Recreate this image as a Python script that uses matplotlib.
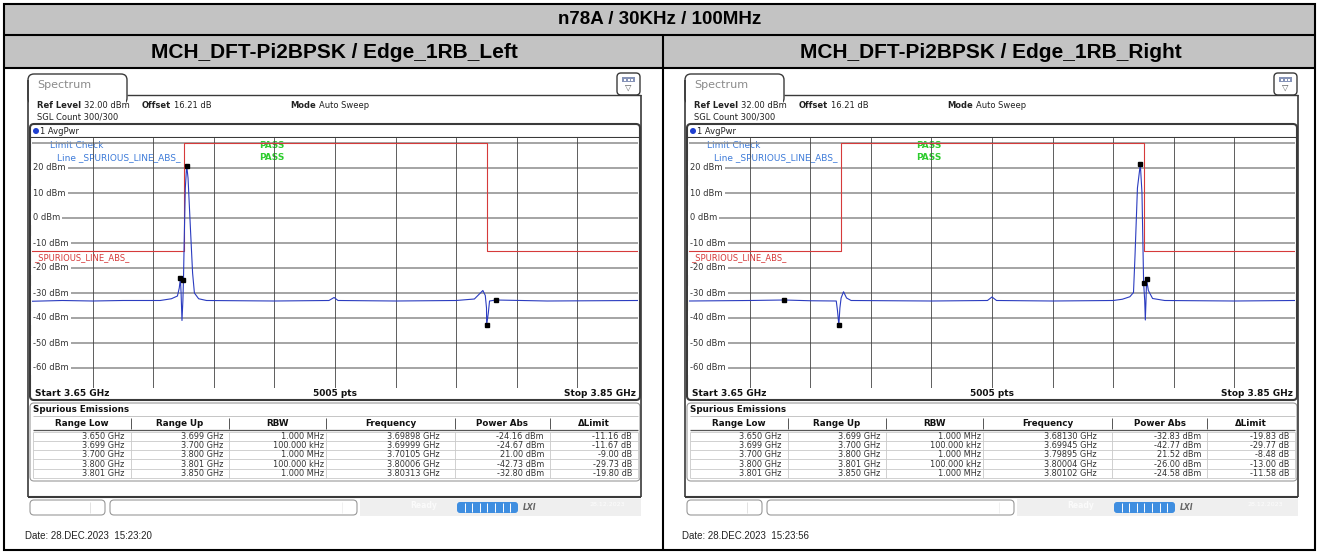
import matplotlib
matplotlib.use("Agg")
import matplotlib.pyplot as plt
from matplotlib.patches import Rectangle, FancyBboxPatch, Circle
from matplotlib.transforms import blended_transform_factory

W, H = 1319, 554

# ---------------- data ----------------
TITLE = "n78A / 30KHz / 100MHz"
SUBTITLES = ["MCH_DFT-Pi2BPSK / Edge_1RB_Left", "MCH_DFT-Pi2BPSK / Edge_1RB_Right"]
DATES = ["Date: 28.DEC.2023  15:23:20", "Date: 28.DEC.2023  15:23:56"]

F_START, F_STOP = 3.65, 3.85
REF_LEVEL, Y_BOTTOM = 32.0, -68.0
Y_LABELS = [20, 10, 0, -10, -20, -30, -40, -50, -60]
Y_GRID = [30, 20, 10, 0, -10, -20, -30, -40, -50, -60]
X_GRID = [3.67, 3.69, 3.71, 3.73, 3.75, 3.77, 3.79, 3.81, 3.83]

limit_freq = [3.65, 3.70, 3.70, 3.80, 3.80, 3.85]
limit_dbm = [-13, -13, 30, 30, -13, -13]

TABLE_HEADERS = ["Range Low", "Range Up", "RBW", "Frequency", "Power Abs", "\u0394Limit"]
range_low = ["3.650 GHz", "3.699 GHz", "3.700 GHz", "3.800 GHz", "3.801 GHz"]
range_up = ["3.699 GHz", "3.700 GHz", "3.800 GHz", "3.801 GHz", "3.850 GHz"]
rbw = ["1.000 MHz", "100.000 kHz", "1.000 MHz", "100.000 kHz", "1.000 MHz"]

left_peak_freq = [3.69898, 3.69999, 3.70105, 3.80006, 3.80313]
left_peak_power = [-24.16, -24.67, 21.00, -42.73, -32.80]
left_delta = [-11.16, -11.67, -9.00, -29.73, -19.80]

right_peak_freq = [3.68130, 3.69945, 3.79895, 3.80004, 3.80102]
right_peak_power = [-32.83, -42.77, 21.52, -26.00, -24.58]
right_delta = [-19.83, -29.77, -8.48, -13.00, -11.58]

left_trace_freq = [3.6500, 3.6600, 3.6700, 3.6800, 3.6923, 3.6960, 3.6980, 3.6986,
                   3.69898, 3.6992, 3.6995, 3.6998, 3.69999, 3.7003, 3.7006, 3.70105,
                   3.7015, 3.7022, 3.7030, 3.7036, 3.7050, 3.7076, 3.7300, 3.7480,
                   3.7497, 3.7510, 3.7700, 3.7900, 3.7960, 3.7988, 3.7996, 3.8000,
                   3.80006, 3.8006, 3.8010, 3.80313, 3.8200, 3.8500]
left_trace_dbm = [-33.3, -33.0, -33.2, -33.0, -33.0, -32.3, -31.2, -28.0,
                  -24.2, -30.0, -41.0, -33.0, -24.7, -5.0, 12.0, 21.0,
                  16.0, -2.0, -22.0, -30.0, -32.3, -33.0, -33.2, -33.0,
                  -31.8, -33.0, -33.2, -33.0, -32.4, -29.0, -31.0, -36.0,
                  -42.7, -38.0, -33.2, -32.8, -33.2, -33.0]

right_trace_freq = [3.6500, 3.6700, 3.68130, 3.6900, 3.6986, 3.6990, 3.69945, 3.6998,
                    3.7002, 3.7010, 3.7020, 3.7035, 3.7300, 3.7485, 3.7500, 3.7515,
                    3.7700, 3.7900, 3.7930, 3.7955, 3.7967, 3.7972, 3.7980, 3.79895,
                    3.7995, 3.7998, 3.80004, 3.8004, 3.8006, 3.8008, 3.80102, 3.8016,
                    3.8030, 3.8070, 3.8300, 3.8500]
right_trace_dbm = [-33.2, -33.0, -32.8, -33.1, -33.2, -37.0, -42.8, -36.0,
                   -32.0, -29.5, -32.0, -33.0, -33.2, -33.0, -31.6, -33.0,
                   -33.2, -33.0, -32.5, -31.5, -29.8, -15.0, 12.0, 21.5,
                   10.0, -10.0, -26.0, -33.0, -40.8, -34.0, -24.6, -29.0,
                   -32.2, -33.0, -33.2, -33.0]

# ---------------- styling ----------------
UI_DARK = "#3a3a3a"
TRACE_BLUE = "#2b3cc0"
LIMIT_RED = "#d63a3a"
LABEL_BLUE = "#3d7bd9"
PASS_GREEN = "#2ecc2e"
HEADER_GRAY = "#c3c3c3"
UI_FONT = "DejaVu Sans"
DOC_FONT = "Liberation Sans"

fig = plt.figure(figsize=(W / 100, H / 100), dpi=100)
bg = fig.add_axes([0, 0, 1, 1])
bg.set_xlim(0, W)
bg.set_ylim(H, 0)
bg.axis("off")


def box(x0, y0, x1, y1, **kw):
    bg.add_patch(Rectangle((x0, y0), x1 - x0, y1 - y0, **kw))


def rbox(x0, y0, x1, y1, r=4, **kw):
    bg.add_patch(FancyBboxPatch((x0, y0), x1 - x0, y1 - y0,
                                boxstyle=f"round,pad=0,rounding_size={r}", **kw))


def line(xs, ys, **kw):
    bg.plot(xs, ys, solid_capstyle="butt", **kw)


# document table frame
box(4, 4, 1315, 35, facecolor=HEADER_GRAY, edgecolor="none")
box(4, 35, 1315, 68, facecolor=HEADER_GRAY, edgecolor="none")
box(4, 4, 1315, 550, facecolor="none", edgecolor="black", lw=1.5)
line([4, 1315], [35, 35], color="black", lw=1.5)
line([4, 1315], [68, 68], color="black", lw=1.5)
line([663, 663], [35, 550], color="black", lw=1.5)
bg.text(660, 19, TITLE, ha="center", va="center", fontsize=13.5,
        fontweight="bold", family=DOC_FONT)


def draw_panel(dx, subtitle, date, tr_f, tr_db, pk_f, pk_p, pk_d):
    bg.text(334 + dx, 52, subtitle, ha="center", va="center", fontsize=15,
            fontweight="bold", family=DOC_FONT)

    # window frame + tab
    rbox(28 + dx, 74, 127 + dx, 104, r=6, facecolor="white", edgecolor=UI_DARK, lw=1.0)
    box(29 + dx, 95.5, 126 + dx, 106, facecolor="white", edgecolor="none")
    line([127 + dx, 641 + dx], [95, 95], color=UI_DARK, lw=1.0)
    line([28 + dx, 28 + dx], [80, 497], color=UI_DARK, lw=1.2)
    line([641 + dx, 641 + dx], [95, 497], color=UI_DARK, lw=1.2)
    line([28 + dx, 641 + dx], [497, 497], color=UI_DARK, lw=1.5)
    bg.text(37 + dx, 85, "Spectrum", ha="left", va="center", fontsize=8,
            color="#8a8a8a", family=UI_FONT)

    # menu icon
    rbox(617 + dx, 73, 640 + dx, 95, r=4, facecolor="white", edgecolor=UI_DARK, lw=1.0)
    box(622 + dx, 77, 635 + dx, 82, facecolor="#8794b8", edgecolor="none")
    for k in range(3):
        box(624 + dx + 3.5 * k, 78.5, 626 + dx + 3.5 * k, 80.5, facecolor="white",
            edgecolor="none")
    bg.text(628.5 + dx, 87.5, "\u25bd", ha="center", va="center", fontsize=6,
            color="#555555", family=UI_FONT)

    # instrument settings
    info = dict(va="center", fontsize=6, family=UI_FONT, color="#222222")
    bg.text(37 + dx, 105, "Ref Level", fontweight="bold", **info)
    bg.text(84 + dx, 105, "32.00 dBm", **info)
    bg.text(142 + dx, 105, "Offset", fontweight="bold", **info)
    bg.text(174 + dx, 105, "16.21 dB", **info)
    bg.text(290 + dx, 105, "Mode", fontweight="bold", **info)
    bg.text(319 + dx, 105, "Auto Sweep", **info)
    bg.text(37 + dx, 117, "SGL Count 300/300", **info)

    # graph window
    rbox(30 + dx, 124, 640 + dx, 400, r=4, facecolor="white", edgecolor=UI_DARK, lw=1.5)
    line([30 + dx, 640 + dx], [137, 137], color=UI_DARK, lw=0.8)
    bg.add_patch(Circle((36 + dx, 131), 3, facecolor="#1f3fd0", edgecolor="none"))
    bg.text(40 + dx, 131, "1 AvgPwr", **info)
    foot = dict(va="center", fontsize=6.5, family=UI_FONT, fontweight="bold",
                color="#111111")
    bg.text(35 + dx, 394, "Start 3.65 GHz", ha="left", **foot)
    bg.text(335 + dx, 394, "5005 pts", ha="center", **foot)
    bg.text(636 + dx, 394, "Stop 3.85 GHz", ha="right", **foot)

    ax = fig.add_axes([(32 + dx) / W, 1 - 388 / H, 606 / W, 250 / H])
    ax.set_xlim(F_START, F_STOP)
    ax.set_ylim(Y_BOTTOM, REF_LEVEL)
    ax.set_xticks([])
    ax.set_yticks([])
    for s in ax.spines.values():
        s.set_visible(False)
    ax.set_facecolor("white")

    px = bg.transData
    ax.text(50 + dx, 146, "Limit Check", transform=px, va="center", fontsize=6.5,
            color=LABEL_BLUE, family=UI_FONT, zorder=0.5)
    ax.text(57 + dx, 158, "Line _SPURIOUS_LINE_ABS_", transform=px, va="center",
            fontsize=6.5, color=LABEL_BLUE, family=UI_FONT, zorder=0.5)
    for yy in (146, 158):
        ax.text(259 + dx, yy, "PASS", transform=px, va="center", fontsize=6.5,
                color=PASS_GREEN, family=UI_FONT, fontweight="bold", zorder=0.5)

    for v in Y_GRID:
        ax.axhline(v, color="#8c8c8c", lw=1.1, zorder=1)
    for f in X_GRID:
        ax.axvline(f, color="#444444", lw=0.6, zorder=1)

    lab = blended_transform_factory(px, ax.transData)
    for v in Y_LABELS:
        ax.text(33 + dx, v, f"{v} dBm", transform=lab, va="center", ha="left",
                fontsize=6, family=UI_FONT, color="#333333", zorder=2,
                bbox=dict(facecolor="white", edgecolor="none", pad=1.5))
    ax.text(34 + dx, 258, "_SPURIOUS_LINE_ABS_", transform=px, va="center",
            fontsize=6, family=UI_FONT, color=LIMIT_RED, zorder=2)

    ax.plot(limit_freq, limit_dbm, color=LIMIT_RED, lw=0.8, zorder=3)
    ax.plot(tr_f, tr_db, color=TRACE_BLUE, lw=0.8, zorder=4)
    ax.plot(pk_f, pk_p, "s", ms=2.4, color="black", zorder=5)

    # spurious emissions table
    rbox(30 + dx, 403, 640 + dx, 481, r=4, facecolor="white", edgecolor="#9a9a9a", lw=0.8)
    bg.text(33 + dx, 410, "Spurious Emissions", va="center", fontsize=6.3,
            fontweight="bold", family=UI_FONT, color="#111111")
    cols = [33, 131, 229, 326, 455, 550, 638]
    box(33 + dx, 416, 638 + dx, 430, facecolor="white", edgecolor="none")
    line([33 + dx, 638 + dx], [430, 430], color="#555555", lw=0.9)
    line([33 + dx, 638 + dx], [416, 416], color="#bbbbbb", lw=0.6)
    for c in cols[1:-1]:
        line([c + dx, c + dx], [418, 429], color="#555555", lw=0.7)
    for i, h in enumerate(TABLE_HEADERS):
        bg.text((cols[i] + cols[i + 1]) / 2 + dx, 423, h, ha="center", va="center",
                fontsize=6.3, fontweight="bold", family=UI_FONT, color="#111111")
    row_h = 9.3
    top = 431.5
    for k in range(6):
        line([33 + dx, 638 + dx], [top + k * row_h] * 2, color="#c9c9c9", lw=0.6)
    for c in cols:
        line([c + dx, c + dx], [top, top + 5 * row_h], color="#c9c9c9", lw=0.6)
    right_edges = [124, 223, 324, 440, 544, 632]
    for r in range(5):
        cells = [range_low[r], range_up[r], rbw[r], f"{pk_f[r]:.5f} GHz",
                 f"{pk_p[r]:.2f} dBm", f"{pk_d[r]:.2f} dB"]
        yc = top + (r + 0.5) * row_h
        for x_r, s in zip(right_edges, cells):
            bg.text(x_r + dx, yc, s, ha="right", va="center", fontsize=5.9,
                    family=UI_FONT, color="#333333")

    # status bar
    rbox(30 + dx, 500, 105 + dx, 515, r=4, facecolor="white", edgecolor="#999999", lw=0.8)
    line([90 + dx, 90 + dx], [502, 513], color="#dddddd", lw=0.6)
    rbox(110 + dx, 500, 357 + dx, 515, r=4, facecolor="white", edgecolor="#999999", lw=0.8)
    line([342 + dx, 342 + dx], [502, 513], color="#eeeeee", lw=0.6)
    box(360 + dx, 499, 641 + dx, 516, facecolor="#efefef", edgecolor="none")
    bg.text(410 + dx, 505, "Ready", va="center", fontsize=5.5, fontweight="bold",
            family=UI_FONT, color="#fbfbfb")
    rbox(457 + dx, 502, 518 + dx, 513, r=3, facecolor="#3f8ee0", edgecolor="none")
    for k in range(1, 8):
        line([457 + dx + k * 7.6] * 2, [503, 512], color="white", lw=0.7)
    bg.text(523 + dx, 507.5, "LXI", va="center", fontsize=5.5, fontweight="bold",
            style="italic", family=UI_FONT, color="#666666")
    bg.text(590 + dx, 504, "28.12.2023", va="center", fontsize=4.5,
            family=UI_FONT, color="#fdfdfd")

    bg.text(25 + dx, 536, date, va="center", fontsize=7, family=DOC_FONT,
            color="#222222")


draw_panel(0, SUBTITLES[0], DATES[0], left_trace_freq, left_trace_dbm,
           left_peak_freq, left_peak_power, left_delta)
draw_panel(657, SUBTITLES[1], DATES[1], right_trace_freq, right_trace_dbm,
           right_peak_freq, right_peak_power, right_delta)

fig.savefig("out.png", dpi=100)
